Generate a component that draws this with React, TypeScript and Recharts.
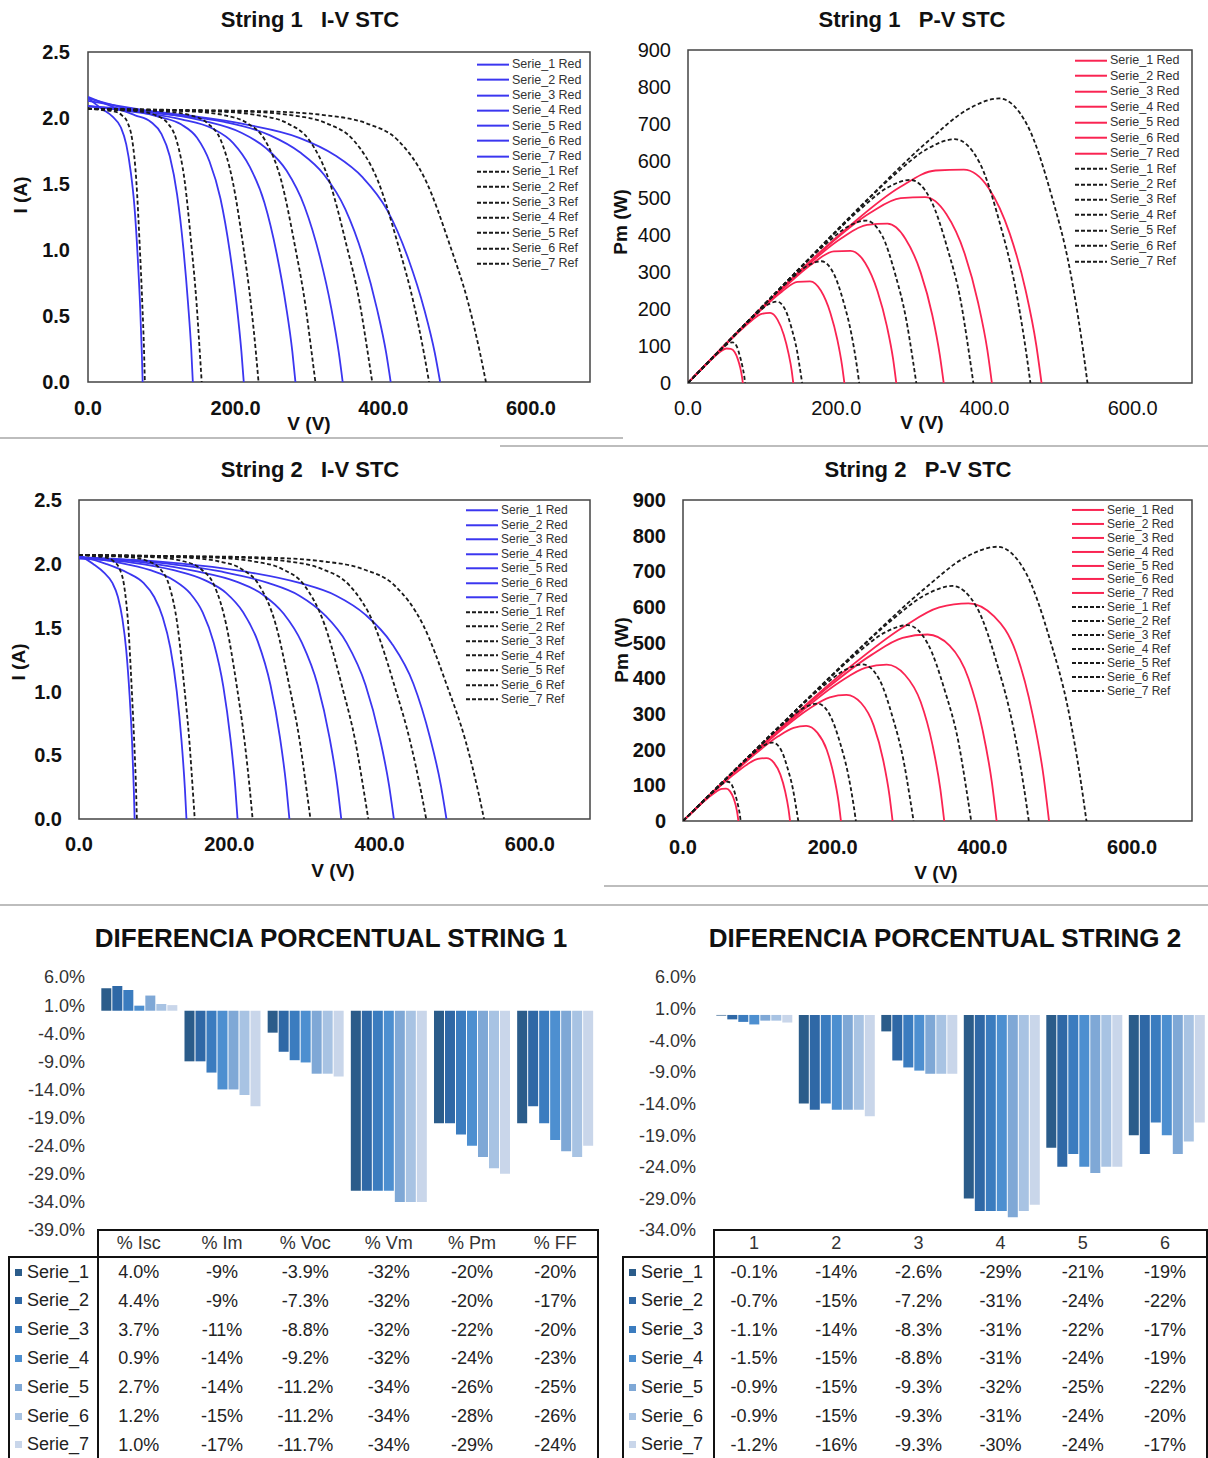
import React from "react";
import {
  LineChart,
  Line,
  XAxis,
  YAxis,
  ReferenceArea,
  Legend,
  BarChart,
  Bar,
} from "recharts";

const FONT = '"Liberation Sans", Arial, Helvetica, sans-serif';
const BLUE = "#3b36f0";
const RED = "#fa2452";
const DASH = "#1a1a1a";

const SERIES = ["Serie_1", "Serie_2", "Serie_3", "Serie_4", "Serie_5", "Serie_6", "Serie_7"];
const V_TICKS = [0, 200, 400, 600];
const I_TICKS = [0, 0.5, 1, 1.5, 2, 2.5];
const P_TICKS = [0, 100, 200, 300, 400, 500, 600, 700, 800, 900];

// reference curves (same for both strings): voltage, current, power
const REF_V = [
  [0, 19, 35, 46, 54, 60, 65.5, 70, 73.5, 76, 77],
  [0, 38.5, 69, 92, 108, 120, 131, 140, 147, 151.5, 154],
  [0, 58, 104, 139, 162, 180, 196, 210, 220.5, 227.5, 231],
  [0, 77, 139, 185, 216, 240, 262, 280, 294, 303, 308],
  [0, 96, 173, 231, 270, 300, 327, 350, 368, 379, 385],
  [0, 116, 208, 277, 323, 360, 393, 420, 441, 455, 462],
  [0, 135, 243, 323, 377, 420, 458, 490, 515, 531, 539],
];
const REF_I = [
  [2.07, 2.06, 2.05, 2.02, 1.96, 1.83, 1.52, 1.04, 0.6, 0.22, 0],
  [2.07, 2.06, 2.05, 2.02, 1.96, 1.83, 1.52, 1.04, 0.6, 0.22, 0],
  [2.07, 2.06, 2.05, 2.02, 1.96, 1.83, 1.52, 1.04, 0.6, 0.22, 0],
  [2.07, 2.06, 2.05, 2.02, 1.96, 1.83, 1.52, 1.04, 0.6, 0.22, 0],
  [2.07, 2.06, 2.05, 2.02, 1.96, 1.83, 1.52, 1.04, 0.6, 0.22, 0],
  [2.07, 2.06, 2.05, 2.02, 1.96, 1.83, 1.52, 1.04, 0.6, 0.22, 0],
  [2.07, 2.06, 2.05, 2.02, 1.96, 1.83, 1.52, 1.04, 0.6, 0.22, 0],
];
const REF_P = [
  [0, 39, 72, 93, 106, 110, 100, 73, 44, 17, 0],
  [0, 79, 141, 186, 212, 220, 199, 146, 88, 33, 0],
  [0, 119, 213, 281, 318, 329, 298, 218, 132, 50, 0],
  [0, 159, 285, 374, 423, 439, 398, 291, 176, 67, 0],
  [0, 198, 355, 467, 529, 549, 497, 364, 221, 83, 0],
  [0, 239, 426, 560, 633, 659, 597, 437, 265, 100, 0],
  [0, 278, 498, 652, 739, 769, 696, 510, 309, 117, 0],
];

// string 1 measured ("Red") curves
const S1_V = [
  [0, 18.5, 33.3, 44.4, 51.8, 57.7, 62.9, 67.3, 70.7, 72.9, 74],
  [0, 35.5, 63.9, 85.2, 99.4, 110.8, 120.7, 129.2, 135.6, 139.9, 142],
  [0, 52.8, 95, 126.6, 147.7, 164.6, 179.4, 192, 201.5, 207.8, 211],
  [0, 70.3, 126.5, 168.6, 196.7, 219.2, 238.9, 255.7, 268.4, 276.8, 281],
  [0, 86.3, 155.3, 207, 241.5, 269.1, 293.3, 314, 329.5, 339.8, 345],
  [0, 102.5, 184.5, 246, 287, 319.8, 348.5, 373.1, 391.6, 403.9, 410],
  [0, 119.3, 214.7, 286.2, 333.9, 372.1, 405.5, 434.1, 455.5, 469.8, 477],
];
const S1_I = [
  [2.15, 2.07, 2.01, 1.93, 1.8, 1.6, 1.33, 0.95, 0.56, 0.22, 0],
  [2.16, 2.08, 2.02, 1.97, 1.88, 1.71, 1.42, 1.01, 0.59, 0.24, 0],
  [2.15, 2.07, 2.01, 1.95, 1.85, 1.67, 1.39, 0.99, 0.58, 0.23, 0],
  [2.09, 2.04, 1.99, 1.92, 1.81, 1.63, 1.36, 0.97, 0.57, 0.23, 0],
  [2.13, 2.05, 1.98, 1.89, 1.77, 1.6, 1.33, 0.95, 0.56, 0.22, 0],
  [2.09, 2.03, 1.97, 1.87, 1.74, 1.57, 1.31, 0.94, 0.55, 0.22, 0],
  [2.09, 2.03, 1.95, 1.85, 1.72, 1.55, 1.3, 0.93, 0.55, 0.22, 0],
];
const S1_P = [
  [0, 38.3, 66.9, 85.7, 93.2, 92.3, 83.7, 63.9, 39.6, 16, 0],
  [0, 73.8, 129.1, 167.8, 186.9, 189.5, 171.4, 130.5, 80, 33.6, 0],
  [0, 109.3, 191, 246.9, 273.2, 274.9, 249.4, 190.1, 116.9, 47.8, 0],
  [0, 143.4, 251.7, 323.7, 356, 357.3, 324.9, 248, 153, 63.7, 0],
  [0, 176.9, 307.5, 391.2, 427.5, 430.6, 390.1, 298.3, 184.5, 74.8, 0],
  [0, 208.1, 363.5, 460, 499.4, 502.1, 456.5, 350.7, 215.4, 88.9, 0],
  [0, 242.2, 418.7, 529.5, 574.3, 576.8, 527.2, 403.7, 250.5, 103.4, 0],
];

// string 2 measured ("Red") curves
const S2_V = [
  [0, 18.5, 33.3, 44.4, 51.8, 57.7, 62.9, 67.3, 70.7, 72.9, 74],
  [0, 35.8, 64.4, 85.8, 100.1, 111.5, 121.6, 130.1, 136.6, 140.9, 143],
  [0, 52.8, 95, 126.6, 147.7, 164.6, 179.4, 192, 201.5, 207.8, 211],
  [0, 70, 126, 168, 196, 218.4, 238, 254.8, 267.4, 275.8, 280],
  [0, 87.3, 157.1, 209.4, 244.3, 272.2, 296.7, 317.6, 333.3, 343.8, 349],
  [0, 104.8, 188.6, 251.4, 293.3, 326.8, 356.2, 381.3, 400.1, 412.7, 419],
  [0, 122.3, 220.1, 293.4, 342.3, 381.4, 415.7, 445, 467, 481.7, 489],
];
const S2_I = [
  [2.07, 2.0, 1.93, 1.85, 1.74, 1.57, 1.32, 0.97, 0.59, 0.24, 0],
  [2.06, 2.0, 1.93, 1.85, 1.74, 1.58, 1.34, 1.0, 0.6, 0.24, 0],
  [2.05, 2.01, 1.95, 1.87, 1.77, 1.62, 1.38, 1.04, 0.63, 0.26, 0],
  [2.04, 2.01, 1.95, 1.87, 1.77, 1.62, 1.39, 1.05, 0.64, 0.26, 0],
  [2.05, 2.01, 1.94, 1.86, 1.76, 1.61, 1.38, 1.05, 0.64, 0.26, 0],
  [2.05, 2.01, 1.94, 1.85, 1.75, 1.6, 1.38, 1.05, 0.64, 0.26, 0],
  [2.05, 2.01, 1.94, 1.85, 1.75, 1.6, 1.38, 1.06, 0.64, 0.26, 0],
];
const S2_P = [
  [0, 37, 64.3, 82.1, 90.1, 90.6, 83, 65.3, 41.7, 17.5, 0],
  [0, 71.6, 124.3, 158.7, 174.2, 176.2, 162.9, 130.1, 82, 33.8, 0],
  [0, 106.1, 185.3, 236.7, 261.4, 266.7, 247.6, 199.7, 126.9, 54, 0],
  [0, 140.7, 245.7, 314.2, 346.9, 353.8, 330.8, 267.5, 171.1, 71.7, 0],
  [0, 175.5, 304.8, 389.5, 430, 438.2, 409.4, 333.5, 213.3, 89.4, 0],
  [0, 210.6, 365.9, 465.1, 513.3, 522.9, 491.6, 400.4, 256.1, 107.3, 0],
  [0, 245.8, 427, 542.8, 599, 610.2, 573.7, 471.7, 298.9, 125.2, 0],
];

// percentage differences, one row per serie
const CATS_1 = ["% Isc", "% Im", "% Voc", "% Vm", "% Pm", "% FF"];
const CATS_2 = ["1", "2", "3", "4", "5", "6"];
const DECIMALS = [1, 0, 1, 0, 0, 0];
const S1_PCT = [
  [4.0, -9, -3.9, -32, -20, -20],
  [4.4, -9, -7.3, -32, -20, -17],
  [3.7, -11, -8.8, -32, -22, -20],
  [0.9, -14, -9.2, -32, -24, -23],
  [2.7, -14, -11.2, -34, -26, -25],
  [1.2, -15, -11.2, -34, -28, -26],
  [1.0, -17, -11.7, -34, -29, -24],
];
const S2_PCT = [
  [-0.1, -14, -2.6, -29, -21, -19],
  [-0.7, -15, -7.2, -31, -24, -22],
  [-1.1, -14, -8.3, -31, -22, -17],
  [-1.5, -15, -8.8, -31, -24, -19],
  [-0.9, -15, -9.3, -32, -25, -22],
  [-0.9, -15, -9.3, -31, -24, -20],
  [-1.2, -16, -9.3, -30, -24, -17],
];
const PCT_TICKS_1 = [6, 1, -4, -9, -14, -19, -24, -29, -34, -39];
const PCT_TICKS_2 = [6, 1, -4, -9, -14, -19, -24, -29, -34];
const BAR_COLORS = ["#2b5c8a", "#2f68a6", "#3b7cbf", "#4d8fd0", "#7fa8d6", "#a8c3e3", "#c9d6ea"];

const curve = (vs: number[], ys: number[]) => vs.map((v, j) => ({ v, y: ys[j] }));

function Txt({ x, y, size, bold, rotate, children }: any) {
  return (
    <div
      style={{
        position: "absolute",
        left: x,
        top: y,
        transform: `translate(-50%, -50%)${rotate ? ` rotate(${rotate}deg)` : ""}`,
        fontFamily: FONT,
        fontSize: size,
        fontWeight: bold ? 700 : 400,
        color: "#111",
        whiteSpace: "pre",
        lineHeight: 1,
      }}
    >
      {children}
    </div>
  );
}

function HLine({ x, y, w, color = "#bdbdbd", t = 1.5 }: any) {
  return <div style={{ position: "absolute", left: x, top: y, width: w, height: t, background: color }} />;
}
function VLine({ x, y, h, color = "#111", t = 2 }: any) {
  return <div style={{ position: "absolute", left: x, top: y, width: t, height: h, background: color }} />;
}

function CurveLegend({ color, row, font }: { color: string; row: number; font: number }) {
  const entries = [
    ...SERIES.map((s) => ({ name: `${s} Red`, dashed: false })),
    ...SERIES.map((s) => ({ name: `${s} Ref`, dashed: true })),
  ];
  return (
    <div style={{ fontFamily: FONT, fontSize: font, color: "#333" }}>
      {entries.map((e) => (
        <div key={e.name} style={{ display: "flex", alignItems: "center", height: row }}>
          <svg width={34} height={row} style={{ display: "block" }}>
            <line
              x1={1}
              x2={33}
              y1={row / 2}
              y2={row / 2}
              stroke={e.dashed ? DASH : color}
              strokeWidth={2}
              strokeDasharray={e.dashed ? "4 2" : undefined}
            />
          </svg>
          <span style={{ marginLeft: 2, whiteSpace: "nowrap", lineHeight: 1 }}>{e.name}</span>
        </div>
      ))}
    </div>
  );
}

function CurveChart(p: any) {
  const { box, plot } = p;
  const tickStyle = (bold: boolean) => ({
    fontSize: 20,
    fontWeight: bold ? 700 : 400,
    fill: "#111",
    fontFamily: FONT,
  });
  return (
    <div style={{ position: "absolute", left: box.left, top: box.top }}>
      <LineChart
        width={box.width}
        height={box.height}
        margin={{ top: plot.t, right: box.width - plot.r, bottom: 0, left: 0 }}
      >
        <XAxis
          type="number"
          dataKey="v"
          domain={[0, 680]}
          ticks={V_TICKS}
          interval={0}
          tickFormatter={(v: number) => v.toFixed(1)}
          height={box.height - plot.b}
          axisLine={false}
          tickLine={false}
          tickSize={0}
          tickMargin={p.xMargin}
          tick={tickStyle(p.xBold)}
          allowDataOverflow
        />
        <YAxis
          type="number"
          domain={[0, p.yMax]}
          ticks={p.yTicks}
          interval={0}
          tickFormatter={p.yFmt}
          width={plot.l}
          axisLine={false}
          tickLine={false}
          tickSize={0}
          tickMargin={p.yMargin}
          tick={tickStyle(p.yBold)}
          allowDataOverflow
        />
        <ReferenceArea
          x1={0}
          x2={680}
          y1={0}
          y2={p.yMax}
          fill="none"
          stroke="#444"
          strokeWidth={1.5}
          ifOverflow="visible"
        />
        {p.redV.map((vs: number[], k: number) => (
          <Line
            key={`red${k}`}
            data={curve(vs, p.redY[k])}
            dataKey="y"
            name={`${SERIES[k]} Red`}
            type="monotone"
            stroke={p.redColor}
            strokeWidth={1.8}
            dot={false}
            isAnimationActive={false}
          />
        ))}
        {p.refV.map((vs: number[], k: number) => (
          <Line
            key={`ref${k}`}
            data={curve(vs, p.refY[k])}
            dataKey="y"
            name={`${SERIES[k]} Ref`}
            type="monotone"
            stroke={DASH}
            strokeWidth={1.8}
            strokeDasharray="4 2.5"
            dot={false}
            isAnimationActive={false}
          />
        ))}
        <Legend
          layout="vertical"
          align="center"
          verticalAlign="middle"
          wrapperStyle={{ left: p.legend.left, top: p.legend.top, width: "auto" }}
          content={() => <CurveLegend color={p.redColor} row={p.legend.row} font={p.legend.font} />}
        />
      </LineChart>
    </div>
  );
}

function PctChart({ box, yW, right, cats, values, min, ticks, yMargin }: any) {
  const rows = cats.map((c: string, j: number) => {
    const r: any = { cat: c };
    values.forEach((s: number[], k: number) => (r[`s${k}`] = s[j]));
    return r;
  });
  return (
    <div style={{ position: "absolute", left: box.left, top: box.top }}>
      <BarChart
        width={box.width}
        height={box.height}
        data={rows}
        margin={{ top: 17, right, bottom: 10, left: 0 }}
        barCategoryGap="4%"
        barGap={1}
      >
        <XAxis dataKey="cat" hide />
        <YAxis
          type="number"
          domain={[min, 6]}
          ticks={ticks}
          interval={0}
          tickFormatter={(v: number) => `${v.toFixed(1)}%`}
          width={yW}
          axisLine={false}
          tickLine={false}
          tickSize={0}
          tickMargin={yMargin}
          tick={{ fontSize: 18, fill: "#333", fontFamily: FONT }}
        />
        {SERIES.map((s, k) => (
          <Bar key={s} dataKey={`s${k}`} name={s} fill={BAR_COLORS[k]} isAnimationActive={false} />
        ))}
      </BarChart>
    </div>
  );
}

function PctTable({ frameL, colL, colR, cats, values }: any) {
  const cw = (colR - colL) / cats.length;
  const rowY = (k: number) => 1272 + 28.8 * k;
  return (
    <>
      <HLine x={colL} y={1229} w={colR - colL + 2} color="#111" t={2} />
      <HLine x={frameL} y={1256} w={colR - frameL + 2} color="#111" t={2} />
      <VLine x={frameL} y={1256} h={210} />
      <VLine x={colL} y={1229} h={240} />
      <VLine x={colR} y={1229} h={240} />
      {cats.map((c: string, j: number) => (
        <Txt key={c} x={colL + cw * (j + 0.5)} y={1243} size={18}>
          <span style={{ color: "#333" }}>{c}</span>
        </Txt>
      ))}
      {values.map((s: number[], k: number) => (
        <React.Fragment key={k}>
          <div
            style={{
              position: "absolute",
              left: frameL + 7,
              top: rowY(k) - 10,
              height: 20,
              display: "flex",
              alignItems: "center",
              fontFamily: FONT,
              fontSize: 18,
              color: "#222",
            }}
          >
            <span style={{ width: 7, height: 7, background: BAR_COLORS[k], marginRight: 5, display: "inline-block" }} />
            {SERIES[k]}
          </div>
          {s.map((v, j) => (
            <Txt key={j} x={colL + cw * (j + 0.5)} y={rowY(k)} size={18}>
              <span style={{ color: "#222" }}>{`${v.toFixed(DECIMALS[j])}%`}</span>
            </Txt>
          ))}
        </React.Fragment>
      ))}
    </>
  );
}

export default function App() {
  const f1 = (v: number) => v.toFixed(1);
  const f0 = (v: number) => `${v}`;
  return (
    <div
      style={{
        position: "absolute",
        left: 0,
        top: 0,
        width: 1208,
        height: 1458,
        background: "#fff",
        overflow: "hidden",
        fontFamily: FONT,
      }}
    >
      <CurveChart
        box={{ left: 0, top: 0, width: 600, height: 440 }}
        plot={{ l: 88, t: 52, r: 590, b: 382 }}
        yMax={2.5}
        yTicks={I_TICKS}
        yFmt={f1}
        yBold
        xBold
        xMargin={18.5}
        yMargin={18}
        redV={S1_V}
        redY={S1_I}
        refV={REF_V}
        refY={REF_I}
        redColor={BLUE}
        legend={{ left: 476, top: 57, row: 15.3, font: 12.5 }}
      />
      <CurveChart
        box={{ left: 600, top: 0, width: 608, height: 440 }}
        plot={{ l: 88, t: 50, r: 592, b: 383 }}
        yMax={900}
        yTicks={P_TICKS}
        yFmt={f0}
        yBold={false}
        xBold={false}
        xMargin={17.5}
        yMargin={17}
        redV={S1_V}
        redY={S1_P}
        refV={REF_V}
        refY={REF_P}
        redColor={RED}
        legend={{ left: 474, top: 53, row: 15.45, font: 12.5 }}
      />
      <CurveChart
        box={{ left: 0, top: 450, width: 600, height: 450 }}
        plot={{ l: 79, t: 50, r: 590, b: 369 }}
        yMax={2.5}
        yTicks={I_TICKS}
        yFmt={f1}
        yBold
        xBold
        xMargin={17.5}
        yMargin={17}
        redV={S2_V}
        redY={S2_I}
        refV={REF_V}
        refY={REF_I}
        redColor={BLUE}
        legend={{ left: 465, top: 53, row: 14.55, font: 12 }}
      />
      <CurveChart
        box={{ left: 600, top: 450, width: 608, height: 450 }}
        plot={{ l: 83, t: 50, r: 592, b: 371 }}
        yMax={900}
        yTicks={P_TICKS}
        yFmt={f0}
        yBold
        xBold
        xMargin={18.5}
        yMargin={17}
        redV={S2_V}
        redY={S2_P}
        refV={REF_V}
        refY={REF_P}
        redColor={RED}
        legend={{ left: 471, top: 53, row: 13.9, font: 12 }}
      />

      <Txt x={310} y={20} size={22} bold>{"String 1   I-V STC"}</Txt>
      <Txt x={912} y={20} size={22} bold>{"String 1   P-V STC"}</Txt>
      <Txt x={310} y={470} size={22} bold>{"String 2   I-V STC"}</Txt>
      <Txt x={918} y={470} size={22} bold>{"String 2   P-V STC"}</Txt>

      <Txt x={309} y={423} size={19} bold>V (V)</Txt>
      <Txt x={20} y={195} size={19} bold rotate={-90}>I (A)</Txt>
      <Txt x={922} y={422} size={19} bold>V (V)</Txt>
      <Txt x={620} y={222} size={19} bold rotate={-90}>Pm (W)</Txt>
      <Txt x={333} y={870} size={19} bold>V (V)</Txt>
      <Txt x={18} y={662} size={19} bold rotate={-90}>I (A)</Txt>
      <Txt x={936} y={872} size={19} bold>V (V)</Txt>
      <Txt x={621} y={650} size={19} bold rotate={-90}>Pm (W)</Txt>

      <HLine x={0} y={437} w={623} />
      <HLine x={500} y={445} w={708} />
      <HLine x={604} y={885} w={604} />
      <HLine x={0} y={904} w={1208} />

      <Txt x={331} y={938} size={26} bold>DIFERENCIA PORCENTUAL STRING 1</Txt>
      <Txt x={945} y={938} size={26} bold>DIFERENCIA PORCENTUAL STRING 2</Txt>

      <PctChart
        box={{ left: 0, top: 960, width: 600, height: 280 }}
        yW={98}
        right={3}
        cats={CATS_1}
        values={S1_PCT}
        min={-39}
        ticks={PCT_TICKS_1}
        yMargin={13}
      />
      <PctChart
        box={{ left: 610, top: 960, width: 598, height: 280 }}
        yW={103}
        right={0}
        cats={CATS_2}
        values={S2_PCT}
        min={-34}
        ticks={PCT_TICKS_2}
        yMargin={17}
      />
      <PctTable frameL={8} colL={97} colR={597} cats={CATS_1} values={S1_PCT} />
      <PctTable frameL={622} colL={713} colR={1206} cats={CATS_2} values={S2_PCT} />
    </div>
  );
}
